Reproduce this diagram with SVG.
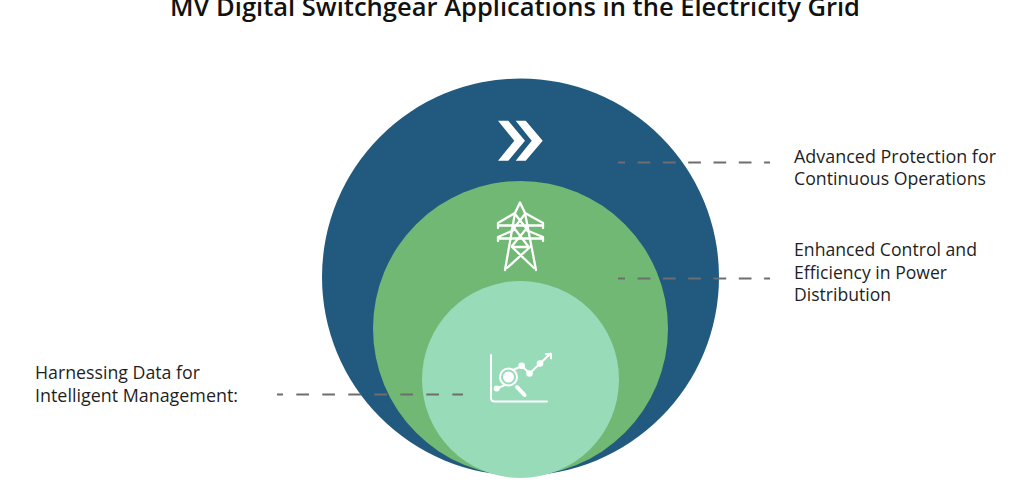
<svg xmlns="http://www.w3.org/2000/svg" width="1030" height="500" viewBox="0 0 1030 500">
<style>
text{font-family:"Open Sans","Noto Sans","Liberation Sans",sans-serif;fill:#1f1f1f;font-size:17.6px}
.title{font-size:24.5px;font-weight:600;fill:#111}
.dash{stroke:#6e6e6e;stroke-width:2.2;fill:none}
.r{stroke-dasharray:12.7 12.6}
.l{stroke-dasharray:12.7 13.3}
.ic{fill:none;stroke:#fff;stroke-linecap:round;stroke-linejoin:round}
</style>
<rect width="1030" height="500" fill="#fff"/>
<text class="title" x="515" y="16" text-anchor="middle" textLength="690" lengthAdjust="spacingAndGlyphs">MV Digital Switchgear Applications in the Electricity Grid</text>
<g id="node-protection">
<circle cx="520.500" cy="277" r="198.500" fill="#215a7e"/>
<path fill="#fff" d="M498 120.700H508.300L525 140.700L508.300 160.700H498L514.300 140.700Z M515.700 120.700H525.700L542.700 140.700L525.700 160.700H515.700L531.700 140.700Z"/>
<text x="794" y="162.500" textLength="202" lengthAdjust="spacingAndGlyphs">Advanced Protection for</text>
<text x="794" y="185" textLength="192" lengthAdjust="spacingAndGlyphs">Continuous Operations</text>
</g>
<g id="node-control">
<circle cx="520.500" cy="328.500" r="147.500" fill="#70b873"/>
<g class="ic" stroke-width="2.300">
<path d="M505 270L515 213L520 202.500L525 213L536 270"/>
<path d="M498 228V223L515 213M543 228V223L525 213M498 225.500H543"/>
<path d="M498 241V237L514 230M543 241V237L526 230M498 238.500H543"/>
<path d="M515 214L526 228M525 214L514 228M514 228L528 246M527 228L512 246M512 247H530M512 247L534 268M530 247L507 268"/>
</g>
<text x="794" y="256" textLength="183" lengthAdjust="spacingAndGlyphs">Enhanced Control and</text>
<text x="794" y="278.500" textLength="153" lengthAdjust="spacingAndGlyphs">Efficiency in Power</text>
<text x="794" y="300.500" textLength="97" lengthAdjust="spacingAndGlyphs">Distribution</text>
</g>
<g id="node-data">
<circle cx="520.500" cy="379.500" r="98.500" fill="#98dbb9"/>
<g class="ic" stroke-width="2">
<path d="M491 355V398Q491 401.500 495 401.500H547"/>
<path d="M497 388.500L505 385 M513 370L522 366L529.500 373.500L540 363.500L550.500 353.500 M546 354H551V358.500"/>
<circle cx="508.500" cy="377" r="8.500"/>
<path d="M517 387L524.500 395" stroke-width="4"/>
</g>
<g fill="#fff">
<circle cx="508.500" cy="377" r="5.500"/>
<circle cx="496.700" cy="388.500" r="3"/>
<circle cx="521.700" cy="365.700" r="3.300"/>
<circle cx="529.500" cy="373.500" r="3.300"/>
<circle cx="540" cy="363.500" r="3.300"/>
</g>
<text x="35" y="379" textLength="165" lengthAdjust="spacingAndGlyphs">Harnessing Data for</text>
<text x="35" y="402" textLength="203" lengthAdjust="spacingAndGlyphs">Intelligent Management:</text>
</g>
<g id="connectors">
<line class="dash r" x1="618" y1="162.500" x2="770" y2="162.500" stroke-dashoffset="5.700"/>
<line class="dash r" x1="618" y1="278.500" x2="770" y2="278.500" stroke-dashoffset="5.700"/>
<line class="dash l" x1="277" y1="394.500" x2="463" y2="394.500" stroke-dashoffset="6.700"/>
</g>
</svg>
